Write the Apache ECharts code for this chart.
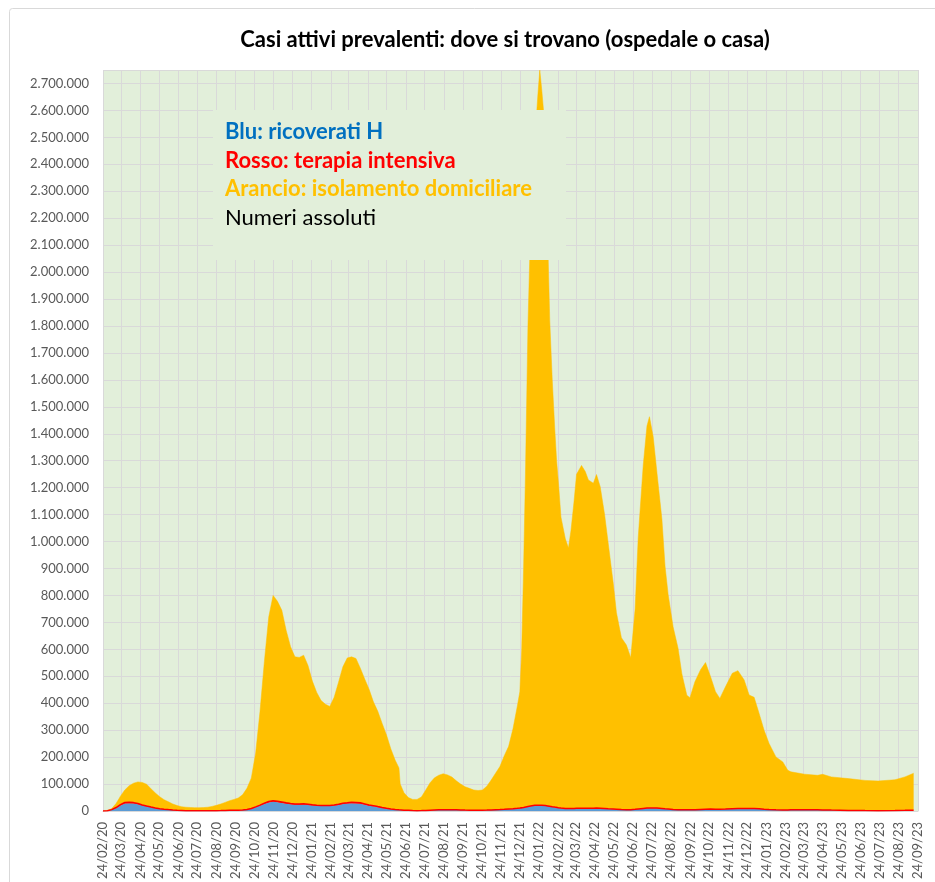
<!DOCTYPE html>
<html><head><meta charset="utf-8">
<script src="https://cdn.jsdelivr.net/npm/echarts@6/dist/echarts.min.js"></script>
<style>html,body{margin:0;padding:0;background:#fff}#c{width:935px;height:882px}</style>
</head><body><div id="c"></div>
<script>
const dates = ['2020-02-24','2020-03-02','2020-03-09','2020-03-16','2020-03-23','2020-03-30','2020-04-06','2020-04-13','2020-04-20','2020-04-27','2020-05-04','2020-05-11','2020-05-18','2020-05-25','2020-06-01','2020-06-08','2020-06-15','2020-06-22','2020-06-29','2020-07-06','2020-07-13','2020-07-20','2020-07-27','2020-08-03','2020-08-10','2020-08-17','2020-08-24','2020-08-31','2020-09-07','2020-09-14','2020-09-21','2020-09-28','2020-10-05','2020-10-12','2020-10-19','2020-10-26','2020-11-02','2020-11-09','2020-11-16','2020-11-23','2020-11-30','2020-12-07','2020-12-14','2020-12-21','2020-12-28','2021-01-04','2021-01-11','2021-01-18','2021-01-25','2021-02-01','2021-02-08','2021-02-15','2021-02-22','2021-03-01','2021-03-08','2021-03-15','2021-03-22','2021-03-29','2021-04-05','2021-04-12','2021-04-19','2021-04-26','2021-05-03','2021-05-10','2021-05-17','2021-05-24','2021-05-31','2021-06-07','2021-06-13','2021-06-15','2021-06-21','2021-06-28','2021-07-05','2021-07-12','2021-07-19','2021-07-26','2021-08-02','2021-08-09','2021-08-16','2021-08-23','2021-08-30','2021-09-06','2021-09-13','2021-09-20','2021-09-27','2021-10-04','2021-10-11','2021-10-18','2021-10-25','2021-11-01','2021-11-08','2021-11-15','2021-11-22','2021-11-29','2021-12-06','2021-12-13','2021-12-20','2021-12-24','2021-12-27','2021-12-30','2022-01-02','2022-01-06','2022-01-10','2022-01-17','2022-01-20','2022-01-22','2022-01-25','2022-01-28','2022-01-31','2022-02-03','2022-02-07','2022-02-10','2022-02-14','2022-02-18','2022-02-21','2022-02-24','2022-02-28','2022-03-07','2022-03-12','2022-03-16','2022-03-21','2022-03-25','2022-04-02','2022-04-08','2022-04-13','2022-04-21','2022-04-26','2022-05-02','2022-05-09','2022-05-15','2022-05-23','2022-05-28','2022-06-05','2022-06-13','2022-06-20','2022-06-27','2022-07-02','2022-07-10','2022-07-16','2022-07-20','2022-07-26','2022-08-01','2022-08-09','2022-08-14','2022-08-19','2022-08-27','2022-09-04','2022-09-10','2022-09-18','2022-09-23','2022-10-01','2022-10-10','2022-10-18','2022-10-26','2022-11-03','2022-11-10','2022-11-19','2022-11-30','2022-12-09','2022-12-19','2022-12-27','2023-01-04','2023-01-12','2023-01-20','2023-01-28','2023-02-08','2023-02-19','2023-02-27','2023-03-04','2023-03-26','2023-04-16','2023-04-24','2023-05-08','2023-06-04','2023-07-01','2023-07-22','2023-08-18','2023-09-03','2023-09-17'];

const ricoverati = [100,700,4300,11000,20700,27400,29000,27800,24900,20400,16800,13600,10400,8200,6400,4900,3700,2700,2000,1100,840,760,750,760,800,840,1060,1380,1840,2220,2380,2850,3500,5100,8500,14000,19800,26400,32000,34700,32900,30100,27300,24700,23200,23400,23900,22700,20800,19500,18500,18300,18500,20200,22400,25900,27400,28900,28100,27000,23300,19700,17500,14300,11500,9000,6600,4900,3700,3500,2400,2000,1400,1200,1300,2000,2800,3500,4100,4200,4250,4150,3800,3300,2900,2700,2600,2500,2600,2900,3500,4300,5000,5800,6900,7500,8900,9800,10500,12000,13500,15500,17300,19300,19700,19900,20000,19800,19500,18800,17500,16500,15000,13600,12500,11600,10500,8700,8400,8500,9000,9400,10000,10100,10200,10000,10300,9800,8900,7900,6800,6100,4900,4400,4800,6000,7300,9300,10400,10800,10900,10400,9200,8000,7200,5700,4800,4300,4100,4200,4800,5800,6600,6800,6700,6500,6900,8000,8600,9100,9100,8700,7800,6500,5300,4400,4000,4000,4100,4400,4300,4000,3300,2200,1500,1300,1800,2400,3000];

const terapiaIntensiva = [30,170,730,1850,3200,4000,3900,3300,2600,2000,1500,1000,750,540,420,290,220,150,110,70,60,50,40,40,50,60,70,90,140,180,200,250,320,450,800,1400,2000,2850,3500,3800,3700,3500,3200,2800,2600,2600,2600,2500,2400,2200,2100,2100,2100,2400,2800,3200,3400,3700,3700,3600,3200,2700,2400,2100,1700,1300,1000,800,600,580,460,330,200,160,160,200,270,360,450,520,540,550,520,480,430,380,350,340,360,390,440,520,600,700,800,900,1000,1080,1150,1270,1380,1500,1600,1700,1700,1700,1690,1650,1600,1500,1400,1300,1150,1050,950,880,800,600,520,500,480,480,480,460,450,420,400,390,370,350,300,270,220,200,210,240,280,340,390,410,420,400,370,340,300,240,200,190,180,170,180,200,230,240,250,250,270,300,320,330,340,330,310,270,220,180,160,160,160,150,140,130,120,90,70,60,70,80,100];

const isolamento = [200,1100,4000,15000,31000,46600,61000,72000,80500,83600,80700,68400,55800,44300,35200,28800,22100,17200,13900,12800,12100,11700,11600,11800,13200,16100,19900,24500,30000,35600,40400,44900,56200,78500,112700,199600,348000,526000,684500,761500,741400,711400,639500,582500,546200,544000,551500,514800,458800,418300,389400,375600,367400,399400,452800,505900,537200,539400,534200,499400,463500,429600,385100,353600,311800,271700,222400,182300,155700,95900,65100,47700,41400,41600,50500,75800,101900,119100,128500,133300,129200,121300,107700,96200,86700,80900,75000,73200,75000,88700,111000,135200,159400,198500,232300,296600,380000,432000,588000,887000,1235000,1783000,2131000,2459000,2569000,2638000,2728000,2659000,2579000,2430000,2081000,1802000,1584000,1405000,1287000,1204000,1079000,1001000,967000,1031000,1140000,1240000,1272000,1249000,1218000,1206000,1238000,1193000,1091000,982000,836000,730000,638000,611000,564000,743000,1008000,1273000,1418000,1452000,1378000,1245000,1073000,901000,796000,677000,598000,505000,425000,416000,475000,518000,544000,492000,436000,411000,454000,503000,512000,477000,421000,413000,354000,293000,245000,196000,178000,147000,141000,132000,128000,132000,123000,118000,112000,110000,114000,124000,137000];

const axisStart = '2020-02-24';
const axisEnd = '2023-09-24';
const titleText = 'Casi attivi prevalenti: dove si trovano (ospedale o casa)';
const noteLines = [
  {text: 'Blu: ricoverati H', color: '#0070C0', bold: true},
  {text: 'Rosso: terapia intensiva', color: '#FF0000', bold: true},
  {text: 'Arancio: isolamento domiciliare', color: '#FFC000', bold: true},
  {text: 'Numeri assoluti', color: '#000000', bold: false}
];

// daily category axis
const categories = [];
{
  let t = Date.parse(axisStart + 'T00:00:00Z');
  const e = Date.parse(axisEnd + 'T00:00:00Z');
  while (t <= e) { categories.push(new Date(t).toISOString().slice(0, 10)); t += 86400000; }
}
const isMonthTick = (i, v) => v.slice(8, 10) === '24';
const fmtDate = s => s.slice(8, 10) + '/' + s.slice(5, 7) + '/' + s.slice(2, 4);
const fmtNum = v => String(v).replace(/\B(?=(\d{3})+(?!\d))/g, '.');

const FONT = 'Lato, "Liberation Sans", sans-serif';
const chart = echarts.init(document.getElementById('c'), null, {renderer: 'canvas'});

const noteEls = [{
  type: 'rect', z: 100,
  shape: {x: 213, y: 110, width: 353, height: 150},
  style: {fill: '#E2EFDA'}
}];
noteLines.forEach((l, i) => {
  noteEls.push({
    type: 'text', z: 101,
    x: 225, y: 132 + i * 28.5,
    style: {
      text: l.text, fill: l.color,
      font: (l.bold ? 'bold ' : '') + '22px ' + FONT,
      textVerticalAlign: 'middle'
    }
  });
});

const mk = (name, vals, color, extra) => Object.assign({
  name, type: 'line', stack: 'tot',
  data: dates.map((d, i) => [d, vals[i]]),
  symbol: 'none', showSymbol: false,
  areaStyle: {color, opacity: 1},
  lineStyle: {width: 0, color},
  emphasis: {disabled: true},
  z: 2
}, extra || {});

chart.setOption({
  animation: false,
  backgroundColor: '#ffffff',
  grid: {left: 103, right: 17, top: 70, bottom: 71, show: true, backgroundColor: '#E2EFDA', borderWidth: 0},
  xAxis: {
    type: 'category', data: categories, boundaryGap: false,
    axisLine: {show: true, lineStyle: {color: '#D9D9D9'}},
    axisTick: {show: false},
    axisLabel: {interval: isMonthTick, rotate: 90, formatter: fmtDate, color: '#595959', fontSize: 13, fontFamily: FONT, margin: 11},
    splitLine: {show: true, interval: isMonthTick, lineStyle: {color: '#D9D9D9', width: 1}}
  },
  yAxis: {
    type: 'value', min: 0, max: 2750000, interval: 100000,
    axisLine: {show: false}, axisTick: {show: false},
    axisLabel: {color: '#595959', fontSize: 13, fontFamily: FONT, margin: 14, showMaxLabel: false,
      formatter: v => (v % 100000 === 0 ? fmtNum(v) : '')},
    splitLine: {lineStyle: {color: '#D9D9D9', width: 1}}
  },
  series: [
    mk('Ricoverati', ricoverati, '#5B9BD5', {z: 2}),
    mk('Terapia intensiva', terapiaIntensiva, '#FF0000', {z: 4, lineStyle: {width: 1.5, color: '#FF0000'}}),
    mk('Isolamento domiciliare', isolamento, '#FFC000', {z: 3, lineStyle: {width: 0.5, color: '#FFC000'}})
  ],
  graphic: [
    {type: 'rect', z: 0, silent: true, shape: {x: 9.5, y: 8.5, width: 940, height: 900, r: 3}, style: {fill: 'none', stroke: '#D9D9D9', lineWidth: 1}},
    {type: 'text', z: 100, x: 505, y: 40, style: {text: titleText, fill: '#000000', font: 'bold 22px ' + FONT, textAlign: 'center', textVerticalAlign: 'middle'}},
    ...noteEls
  ]
});
</script></body></html>
